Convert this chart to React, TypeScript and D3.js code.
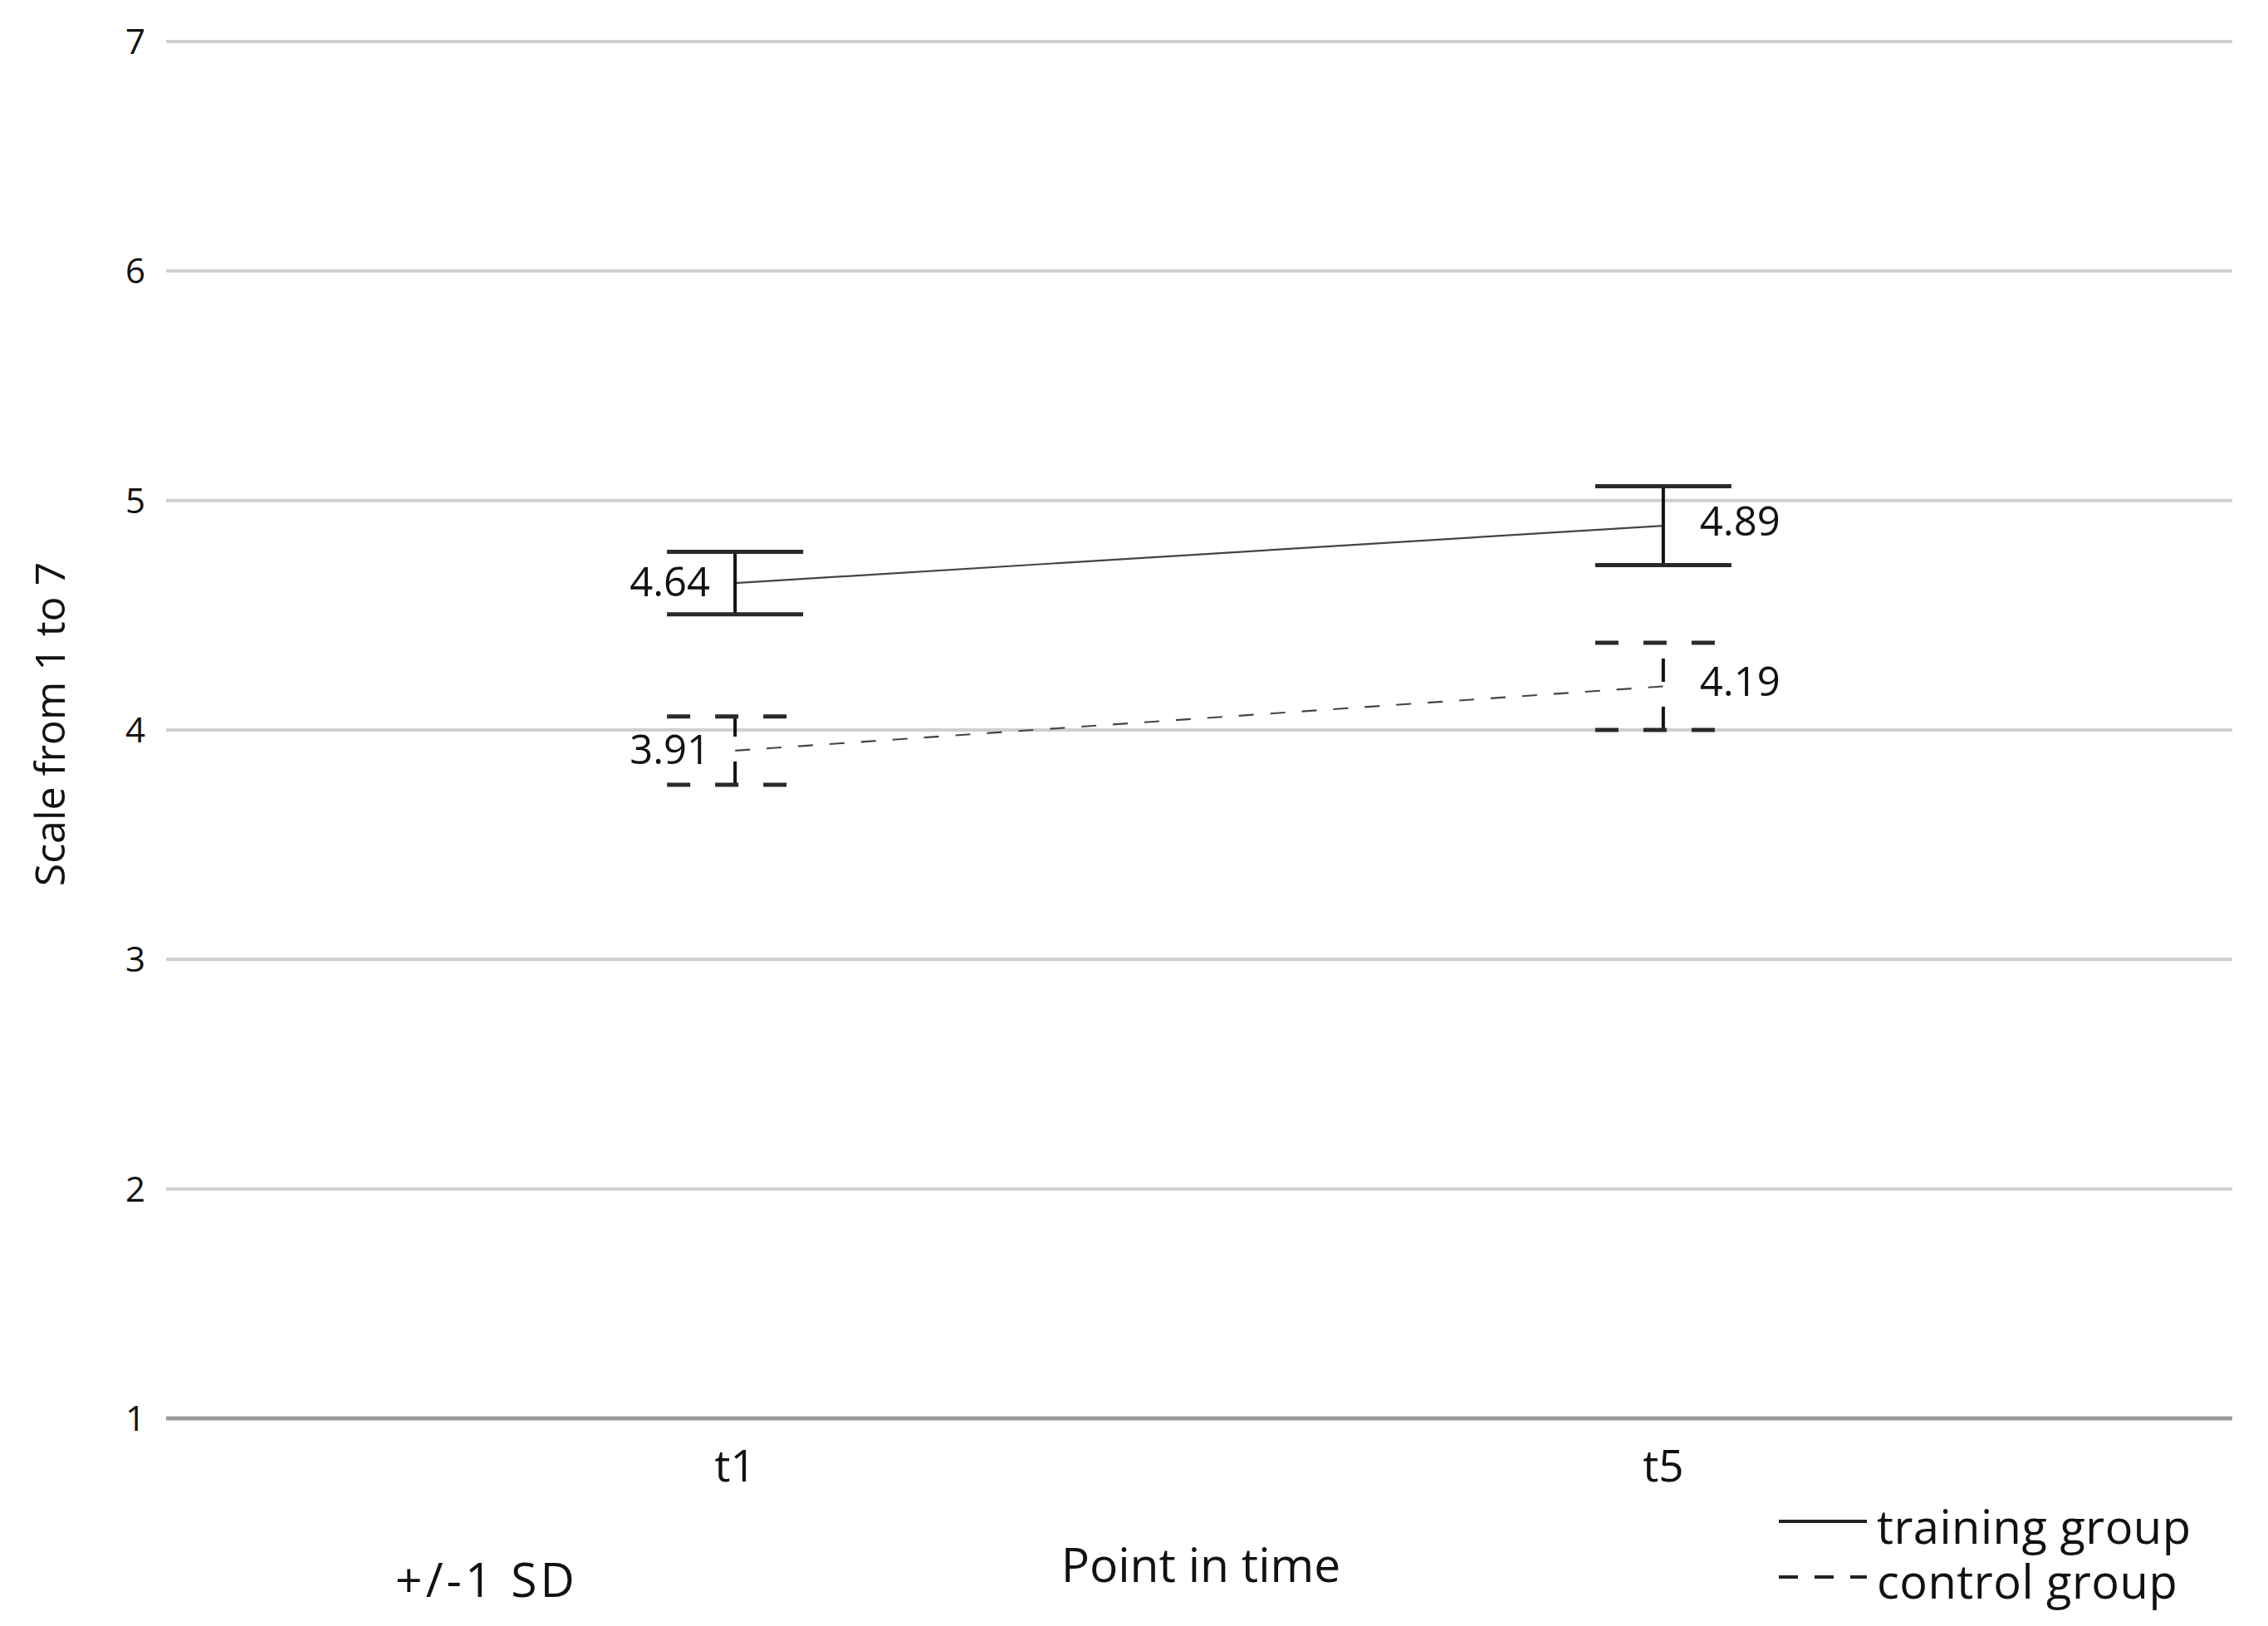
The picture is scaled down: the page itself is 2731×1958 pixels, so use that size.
import React from "react";
import * as d3 from "d3";

const timePoints = ["t1", "t5"];
const yTicks = [1, 2, 3, 4, 5, 6, 7];
const trainingMeans = [4.64, 4.89];
const trainingSD = [0.136, 0.172];
const controlMeans = [3.91, 4.19];
const controlSD = [0.149, 0.19];
const legendLabels = ["training group", "control group"];

const W = 2731;
const H = 1958;
const FONT = "'Open Sans', 'Noto Sans', sans-serif";

export default function App() {
  const x = d3.scalePoint<string>().domain(timePoints).range([200, 2688]).padding(0.613);
  const y = d3.scaleLinear().domain([1, 7]).range([1708, 50]);
  const capHalf = 82;

  const series = [
    { means: trainingMeans, sd: trainingSD, dashed: false },
    { means: controlMeans, sd: controlSD, dashed: true },
  ];

  const line = d3
    .line<number>()
    .x((_, i) => x(timePoints[i]) as number)
    .y((d) => y(d));

  return (
    <svg
      width={W}
      height={H}
      style={{ position: "absolute", left: 0, top: 0, background: "#fff" }}
      fontFamily={FONT}
    >
      <rect x={0} y={0} width={W} height={H} fill="#fff" />
      {yTicks.map((t) => (
        <g key={t}>
          <line
            x1={200}
            x2={2688}
            y1={y(t)}
            y2={y(t)}
            stroke={t === 1 ? "#9a9a9a" : "#cfcfcf"}
            strokeWidth={t === 1 ? 5 : 4}
          />
          <text x={175} y={y(t) + 15} textAnchor="end" fontSize={42} fill="#111">
            {t}
          </text>
        </g>
      ))}

      {series.map((s, si) => (
        <g key={si}>
          <path
            d={line(s.means) || ""}
            fill="none"
            stroke="#444"
            strokeWidth={2.2}
            strokeDasharray={s.dashed ? "18 20" : undefined}
          />
          {s.means.map((m, i) => {
            const cx = x(timePoints[i]) as number;
            const top = y(m + s.sd[i]);
            const bot = y(m - s.sd[i]);
            const dash = s.dashed ? "28 30" : undefined;
            return (
              <g key={i}>
                <line x1={cx} x2={cx} y1={bot} y2={top} stroke="#111" strokeWidth={4} strokeDasharray={dash} />
                <line x1={cx - capHalf} x2={cx + capHalf} y1={top} y2={top} stroke="#2a2a2a" strokeWidth={5} strokeDasharray={dash} />
                <line x1={cx - capHalf} x2={cx + capHalf} y1={bot} y2={bot} stroke="#2a2a2a" strokeWidth={5} strokeDasharray={dash} />
                <text
                  x={i === 0 ? cx - 30 : cx + 44}
                  y={y(m) + (i === 0 ? 16 : 12)}
                  textAnchor={i === 0 ? "end" : "start"}
                  fontSize={49}
                  fill="#111"
                >
                  {m.toFixed(2)}
                </text>
              </g>
            );
          })}
        </g>
      ))}

      {timePoints.map((t) => (
        <text key={t} x={x(t) as number} y={1784} textAnchor="middle" fontSize={53} fill="#111">
          {t}
        </text>
      ))}

      <text x={1446} y={1905} textAnchor="middle" fontSize={57} fill="#111">
        Point in time
      </text>
      <text x={586} y={1923} textAnchor="middle" fontSize={57} letterSpacing={4} fill="#111">
        +/-1 SD
      </text>
      <text
        transform={`translate(78, 872) rotate(-90)`}
        textAnchor="middle"
        fontSize={50}
        fill="#111"
      >
        Scale from 1 to 7
      </text>

      {legendLabels.map((lab, i) => (
        <g key={lab}>
          <line
            x1={2142}
            x2={2248}
            y1={1832 + i * 67}
            y2={1832 + i * 67}
            stroke="#222"
            strokeWidth={4}
            strokeDasharray={i === 1 ? "23 20" : undefined}
          />
          <text x={2260} y={1859 + i * 66} fontSize={56} letterSpacing={0.5} fill="#111">
            {lab}
          </text>
        </g>
      ))}
    </svg>
  );
}
